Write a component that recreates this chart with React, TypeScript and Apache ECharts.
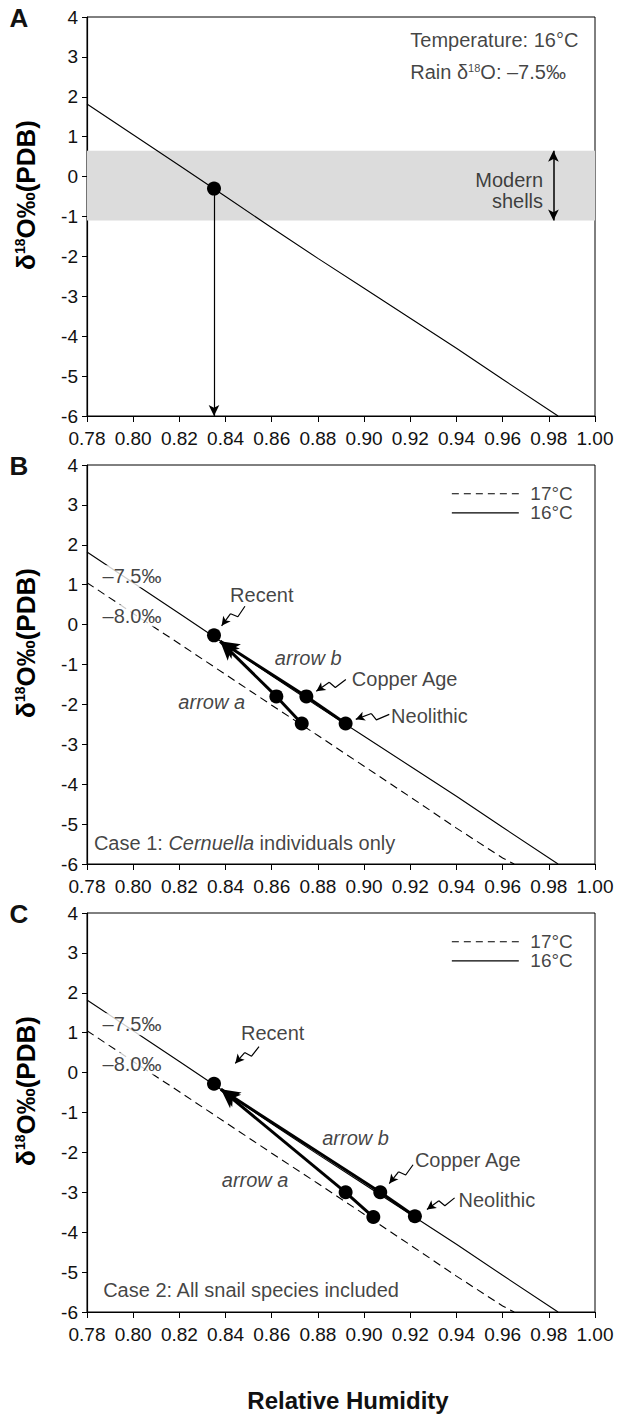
import React, { useEffect, useRef } from "react";
import * as echarts from "echarts";

// ---------- data ----------
const rh16 = [0.78, 0.8, 0.82, 0.84, 0.86, 0.88, 0.9, 0.92, 0.94, 0.96, 0.984];
const d16 = [1.82, 1.05, 0.28, -0.5, -1.28, -2.05, -2.8, -3.55, -4.3, -5.08, -6.0];
const rh17 = [0.78, 0.8, 0.82, 0.84, 0.86, 0.88, 0.9, 0.92, 0.94, 0.96, 0.965];
const d17 = [1.05, 0.28, -0.48, -1.25, -2.02, -2.78, -3.55, -4.32, -5.1, -5.85, -6.0];

const recentA = [0.835, -0.3];
const modernBand = [0.65, -1.1];

const recentB = [0.835, -0.27];
const arrowAB = [[0.873, -2.48], [0.862, -1.8]];
const arrowBB = [[0.892, -2.48], [0.875, -1.8]];
const tipB = [0.8377, -0.42];

const recentC = [0.835, -0.28];
const arrowAC = [[0.904, -3.62], [0.892, -3.0]];
const arrowBC = [[0.922, -3.6], [0.907, -3.0]];
const tipC = [0.838, -0.42];

const X_MIN = 0.78, X_MAX = 1.0, X_INT = 0.02;
const Y_MIN = -6, Y_MAX = 4, Y_INT = 1;

const FONT = "'Liberation Sans', Arial, sans-serif";
const GRID_TOPS = [17, 465, 913];
const GRID_H = 399;
const PX = 508 / 0.22; // px per x unit (for zigzag shape)
const PY = 399 / 10; // px per y unit

function zig(S: number[], T: number[]) {
  const dx = (T[0] - S[0]) * PX;
  const dy = (T[1] - S[1]) * PY;
  const len = Math.hypot(dx, dy);
  const nx = -dy / len, ny = dx / len;
  const toD = (px: number, py: number) => [S[0] + px / PX, S[1] + py / PY];
  const p1 = toD(dx * 0.4 + nx * 3.5, dy * 0.4 + ny * 3.5);
  const p2 = toD(dx * 0.52 - nx * 3.5, dy * 0.52 - ny * 3.5);
  return { pts: [S, p1, p2], last: p2 };
}

export default function App() {
  const ref = useRef<HTMLDivElement>(null);
  useEffect(() => {
    if (!ref.current) return;
    const chart = echarts.init(ref.current, undefined, { renderer: "svg" });

    const grids = GRID_TOPS.map((t) => ({
      left: 87, width: 508, top: t, height: GRID_H,
      show: true, borderColor: "#000", borderWidth: 1, backgroundColor: "transparent",
    }));
    const xAxes = GRID_TOPS.map((_, i) => ({
      type: "value", gridIndex: i, min: X_MIN, max: X_MAX, interval: X_INT,
      axisLine: { onZero: false, lineStyle: { color: "#000", width: 1.2 } },
      axisTick: { show: true, length: 6, lineStyle: { color: "#000" } },
      splitLine: { show: false },
      axisLabel: { color: "#111", fontSize: 19, fontFamily: FONT, margin: 13,
        formatter: (v: number) => v.toFixed(2) },
    }));
    const yAxes = GRID_TOPS.map((_, i) => ({
      type: "value", gridIndex: i, min: Y_MIN, max: Y_MAX, interval: Y_INT,
      axisLine: { show: true, onZero: false, lineStyle: { color: "#000", width: 1.2 } },
      axisTick: { show: true, length: 5, lineStyle: { color: "#000" } },
      splitLine: { show: false },
      axisLabel: { color: "#111", fontSize: 19, fontFamily: FONT, margin: 9 },
    }));

    const black = "#000";
    const lineS = (i: number, xs: number[], ys: number[], dashed: boolean, extra: any = {}) => ({
      type: "line", xAxisIndex: i, yAxisIndex: i, symbol: "none", silent: true,
      data: xs.map((x, k) => [x, ys[k]]),
      lineStyle: { color: black, width: 1.1, type: dashed ? [8, 5] : "solid" },
      z: 3, ...extra,
    });
    const pointS = (i: number, pts: number[][]) => ({
      type: "scatter", xAxisIndex: i, yAxisIndex: i, symbol: "circle", symbolSize: 14,
      itemStyle: { color: black, opacity: 1 }, data: pts, z: 6, silent: true,
    });
    const arrowS = (i: number, seg: number[][], tip: number[]) => ({
      type: "line", xAxisIndex: i, yAxisIndex: i, symbol: "none", silent: true,
      data: seg, lineStyle: { color: black, width: 3 }, z: 5,
      markLine: {
        silent: true, symbol: ["none", "arrow"], symbolSize: [13, 19],
        lineStyle: { color: black, width: 3, type: "solid" }, label: { show: false },
        data: [[{ coord: seg[1] }, { coord: tip }]],
      },
    });
    const zigS = (i: number, S: number[], T: number[]) => {
      const z = zig(S, T);
      return {
        type: "line", xAxisIndex: i, yAxisIndex: i, symbol: "none", silent: true,
        data: z.pts, lineStyle: { color: black, width: 1.2 }, z: 5,
        markLine: {
          silent: true, symbol: ["none", "arrow"], symbolSize: [7, 9],
          lineStyle: { color: black, width: 1.2, type: "solid" }, label: { show: false },
          data: [[{ coord: z.last }, { coord: T }]],
        },
      };
    };
    const FS = 20;
    const rich = {
      s: { fontSize: 11, fontFamily: FONT, color: "#111", verticalAlign: "top", padding: [0, 0, 9, 0] },
      n: { fontSize: FS, fontFamily: FONT, color: "#111" },
      it: { fontSize: FS, fontFamily: FONT, color: "#111", fontStyle: "italic" },
    };
    const txt = (x: number, y: number, text: string, align: string, opts: any = {}) => ({
      value: [x, y],
      label: {
        show: true, formatter: text,
        position: align === "left" ? "right" : align === "right" ? "left" : "inside",
        distance: 0, color: "#111", fontSize: FS, fontFamily: FONT, rich, ...opts,
      },
    });
    const textS = (i: number, items: any[]) => ({
      type: "scatter", xAxisIndex: i, yAxisIndex: i, symbolSize: 0, silent: true,
      itemStyle: { color: "transparent" }, data: items, z: 10,
    });

    const series: any[] = [];
    // Panel A
    series.push(lineS(0, rh16, d16, false, {
      markArea: {
        silent: true, itemStyle: { color: "#dcdcdc" },
        data: [[{ yAxis: modernBand[0] }, { yAxis: modernBand[1] }]],
      },
    }));
    series.push({
      type: "line", xAxisIndex: 0, yAxisIndex: 0, symbol: "none", silent: true, data: [],
      markLine: {
        silent: true, symbol: ["none", "arrow"], symbolSize: [8, 11],
        lineStyle: { color: black, width: 1.2, type: "solid" }, label: { show: false },
        data: [[{ coord: recentA }, { coord: [recentA[0], Y_MIN] }]],
      },
    });
    series.push({
      type: "line", xAxisIndex: 0, yAxisIndex: 0, symbol: "none", silent: true, data: [],
      markLine: {
        silent: true, symbol: ["arrow", "arrow"], symbolSize: [8, 11],
        lineStyle: { color: black, width: 1.5, type: "solid" }, label: { show: false },
        data: [[{ coord: [0.982, modernBand[0]] }, { coord: [0.982, modernBand[1]] }]],
      },
    });
    series.push(pointS(0, [recentA]));
    series.push(textS(0, [
      txt(0.9200, 3.42, "Temperature: 16°C", "left"),
      txt(0.9200, 2.62, "{n|Rain δ}{s|18}{n|O: –7.5‰}", "left"),
      txt(0.9775, -0.08, "Modern", "right"),
      txt(0.9775, -0.61, "shells", "right"),
    ]));

    // Panels B and C
    const panels = [
      { i: 1, recent: recentB, aA: arrowAB, aB: arrowBB, tip: tipB,
        zigs: [[[0.8484, 0.46], [0.8383, -0.03]], [[0.8921, -1.375], [0.8793, -1.67]], [[0.9109, -2.25], [0.8964, -2.375]]],
        texts: [
          txt(0.8557, 0.75, "Recent", "center"),
          txt(0.8947, -1.36, "Copper Age", "left"),
          txt(0.9117, -2.28, "Neolithic", "left"),
          txt(0.8758, -0.83, "arrow b", "center", { fontStyle: "italic" }),
          txt(0.834, -1.94, "arrow a", "center", { fontStyle: "italic" }),
          txt(0.783, -5.48, "{n|Case 1: }{it|Cernuella}{n| individuals only}", "left"),
        ] },
      { i: 2, recent: recentC, aA: arrowAC, aB: arrowBC, tip: tipC,
        zigs: [[[0.8545, 0.65], [0.8442, 0.23]], [[0.9212, -2.31], [0.9109, -2.78]], [[0.9392, -3.14], [0.9272, -3.43]]],
        texts: [
          txt(0.8604, 0.98, "Recent", "center"),
          txt(0.922, -2.2, "Copper Age", "left"),
          txt(0.9409, -3.2, "Neolithic", "left"),
          txt(0.8963, -1.64, "arrow b", "center", { fontStyle: "italic" }),
          txt(0.8528, -2.68, "arrow a", "center", { fontStyle: "italic" }),
          txt(0.787, -5.46, "Case 2: All snail species included", "left"),
        ] },
    ];
    panels.forEach((p) => {
      const i = p.i;
      series.push(lineS(i, rh16, d16, false));
      series.push(lineS(i, rh17, d17, true));
      // legend
      series.push(lineS(i, [0.938, 0.967], [3.28, 3.28], true, { lineStyle: { color: black, width: 1.1, type: [7, 5] } }));
      series.push(lineS(i, [0.938, 0.967], [2.8, 2.8], false));
      series.push(arrowS(i, p.aA, p.tip));
      series.push(arrowS(i, p.aB, p.tip));
      p.zigs.forEach((z) => series.push(zigS(i, z[0], z[1])));
      series.push(pointS(i, [p.recent, ...p.aA, ...p.aB]));
      series.push(textS(i, [
        txt(0.972, 3.28, "17°C", "left", { lineHeight: 17, fontSize: 19 }),
        txt(0.972, 2.8, "16°C", "left", { lineHeight: 17, fontSize: 19 }),
        txt(0.7995, 1.21, "–7.5‰", "center", { backgroundColor: "#fff", padding: [1, 2] }),
        txt(0.7995, 0.225, "–8.0‰", "center", { backgroundColor: "#fff", padding: [1, 2] }),
        ...p.texts,
      ]));
    });

    const yTitleRich = {
      b: { fontSize: 26, fontWeight: "bold", fontFamily: FONT, color: "#111" },
      s: { fontSize: 14, fontWeight: "bold", fontFamily: FONT, color: "#111", verticalAlign: "top", padding: [0, 0, 11, 0] },
    };
    const graphic: any[] = [];
    ["A", "B", "C"].forEach((L, k) => {
      graphic.push({
        type: "text", x: 19, y: GRID_TOPS[k] + 1,
        style: { text: L, font: `bold 26px ${FONT}`, fill: "#111", align: "center", verticalAlign: "middle" },
      });
      graphic.push({
        type: "text", x: 26, y: GRID_TOPS[k] + 178, rotation: Math.PI / 2,
        style: {
          text: "{b|δ}{s|18}{b|O‰(PDB)}", rich: yTitleRich,
          align: "center", verticalAlign: "middle",
        },
      });
    });
    graphic.push({
      type: "text", x: 348, y: 1400,
      style: { text: "Relative Humidity", font: `bold 24px ${FONT}`, fill: "#111",
        align: "center", verticalAlign: "middle" },
    });

    chart.setOption({
      animation: false,
      backgroundColor: "#fff",
      grid: grids, xAxis: xAxes, yAxis: yAxes, series, graphic,
    });
    return () => chart.dispose();
  }, []);
  return (
    <div ref={ref} style={{ position: "absolute", left: 0, top: 0, width: 620, height: 1428 }} />
  );
}
